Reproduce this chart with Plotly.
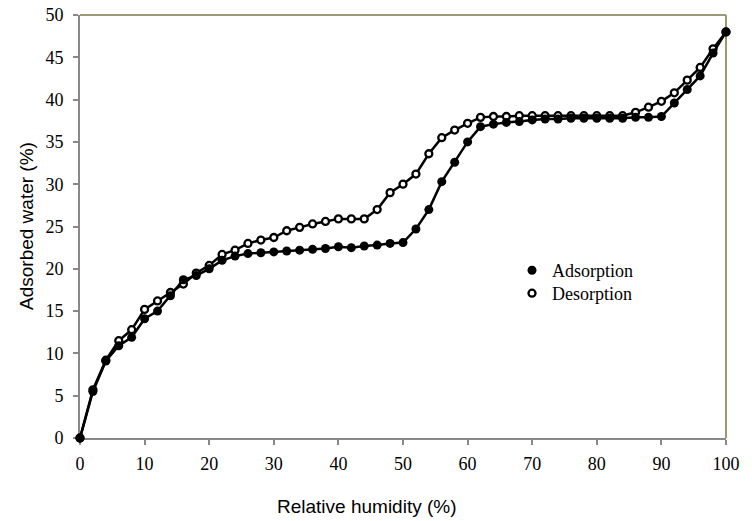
import plotly.graph_objects as go

rh = list(range(0, 101, 2))

adsorption = [0.0, 5.5, 9.1, 10.9, 11.9, 14.1, 15.0, 16.8, 18.7, 19.2,
              20.0, 21.0, 21.5, 21.8, 21.9, 22.0, 22.1, 22.2, 22.3, 22.4,
              22.6, 22.5, 22.7, 22.8, 23.0, 23.1, 24.7, 27.0, 30.3, 32.6,
              35.0, 36.8, 37.1, 37.3, 37.4, 37.6, 37.7, 37.7, 37.8, 37.8,
              37.8, 37.8, 37.8, 37.9, 37.9, 38.0, 39.6, 41.2, 42.8, 45.5,
              48.0]

desorption = [0.0, 5.7, 9.2, 11.5, 12.8, 15.2, 16.2, 17.2, 18.2, 19.5,
              20.4, 21.7, 22.2, 23.0, 23.4, 23.7, 24.5, 24.9, 25.3, 25.6,
              25.9, 25.9, 25.9, 27.0, 29.0, 30.0, 31.2, 33.6, 35.5, 36.4,
              37.2, 37.9, 38.0, 38.0, 38.1, 38.1, 38.1, 38.1, 38.1, 38.1,
              38.1, 38.1, 38.1, 38.5, 39.1, 39.8, 40.8, 42.3, 43.8, 46.0,
              48.0]

x_ticks = list(range(0, 101, 10))
y_ticks = list(range(0, 51, 5))

# plot-area geometry in pixels (for placing legend / titles)
W, H = 752, 521
L, R, T, B = 80, 26, 15, 83
PW, PH = W - L - R, H - T - B


def px_x(p):
    return (p - L) / PW


def px_y(p):
    return (H - B - p) / PH


fig = go.Figure()

# desorption first so the filled adsorption dots sit on top where they overlap
fig.add_trace(go.Scatter(
    x=rh, y=desorption, mode="lines+markers", name="Desorption",
    line=dict(color="black", width=2.5),
    marker=dict(symbol="circle", size=7, color="white", line=dict(color="black", width=2.3)),
    showlegend=False, cliponaxis=False))
fig.add_trace(go.Scatter(
    x=rh, y=adsorption, mode="lines+markers", name="Adsorption",
    line=dict(color="black", width=2.5),
    marker=dict(symbol="circle", size=9, color="black", line=dict(width=0)),
    showlegend=False, cliponaxis=False))

# legend-only entries (markers only, like the original)
fig.add_trace(go.Scatter(
    x=[None], y=[None], mode="markers", name="Adsorption", legend="legend",
    marker=dict(symbol="circle", size=9, color="black", line=dict(width=0))))
fig.add_trace(go.Scatter(
    x=[None], y=[None], mode="markers", name="Desorption", legend="legend2",
    marker=dict(symbol="circle", size=7, color="white", line=dict(color="black", width=2.3))))

axis_gray = "#888888"
frame_olive = "#a0976c"
legend_font = dict(family="Liberation Serif", size=18, color="black")

fig.update_layout(
    width=W, height=H,
    margin=dict(l=L, r=R, t=T, b=B),
    paper_bgcolor="white", plot_bgcolor="white",
    showlegend=True,
    legend=dict(x=px_x(512), y=px_y(252), xanchor="left", yanchor="top",
                bgcolor="rgba(0,0,0,0)", borderwidth=0, font=legend_font,
                itemwidth=30, tracegroupgap=0),
    legend2=dict(x=px_x(512), y=px_y(275), xanchor="left", yanchor="top",
                 bgcolor="rgba(0,0,0,0)", borderwidth=0, font=legend_font,
                 itemwidth=30, tracegroupgap=0),
    xaxis=dict(range=[0, 100], tickvals=x_ticks, ticktext=[str(v) for v in x_ticks],
               automargin=False, layer="below traces",
               showgrid=False, zeroline=False, showline=True, linecolor=axis_gray, linewidth=2,
               ticks="outside", ticklen=5, tickwidth=2, tickcolor=axis_gray,
               ticklabelstandoff=3,
               tickfont=dict(family="Liberation Serif", size=18, color="black")),
    yaxis=dict(range=[0, 50], tickvals=y_ticks, ticktext=[str(v) for v in y_ticks],
               automargin=False, layer="below traces",
               showgrid=False, zeroline=False, showline=True, linecolor=axis_gray, linewidth=2,
               ticks="outside", ticklen=5, tickwidth=2, tickcolor=axis_gray,
               ticklabelstandoff=6,
               tickfont=dict(family="Liberation Serif", size=18, color="black")),
    annotations=[
        dict(text="Relative humidity (%)", xref="paper", yref="paper",
             x=px_x(367), y=px_y(506), xanchor="center", yanchor="middle", showarrow=False,
             font=dict(family="Liberation Sans", size=19, color="black")),
        dict(text="Adsorbed water (%)", xref="paper", yref="paper", textangle=-90,
             x=px_x(26), y=px_y(226), xanchor="center", yanchor="middle", showarrow=False,
             font=dict(family="Liberation Sans", size=19, color="black")),
    ],
    shapes=[
        dict(type="line", xref="paper", yref="paper", x0=0, x1=1, y0=1, y1=1, layer="below",
             line=dict(color=frame_olive, width=2)),
        dict(type="line", xref="paper", yref="paper", x0=1, x1=1, y0=0, y1=1, layer="below",
             line=dict(color=frame_olive, width=2)),
    ],
)

fig.write_html("out.html")
